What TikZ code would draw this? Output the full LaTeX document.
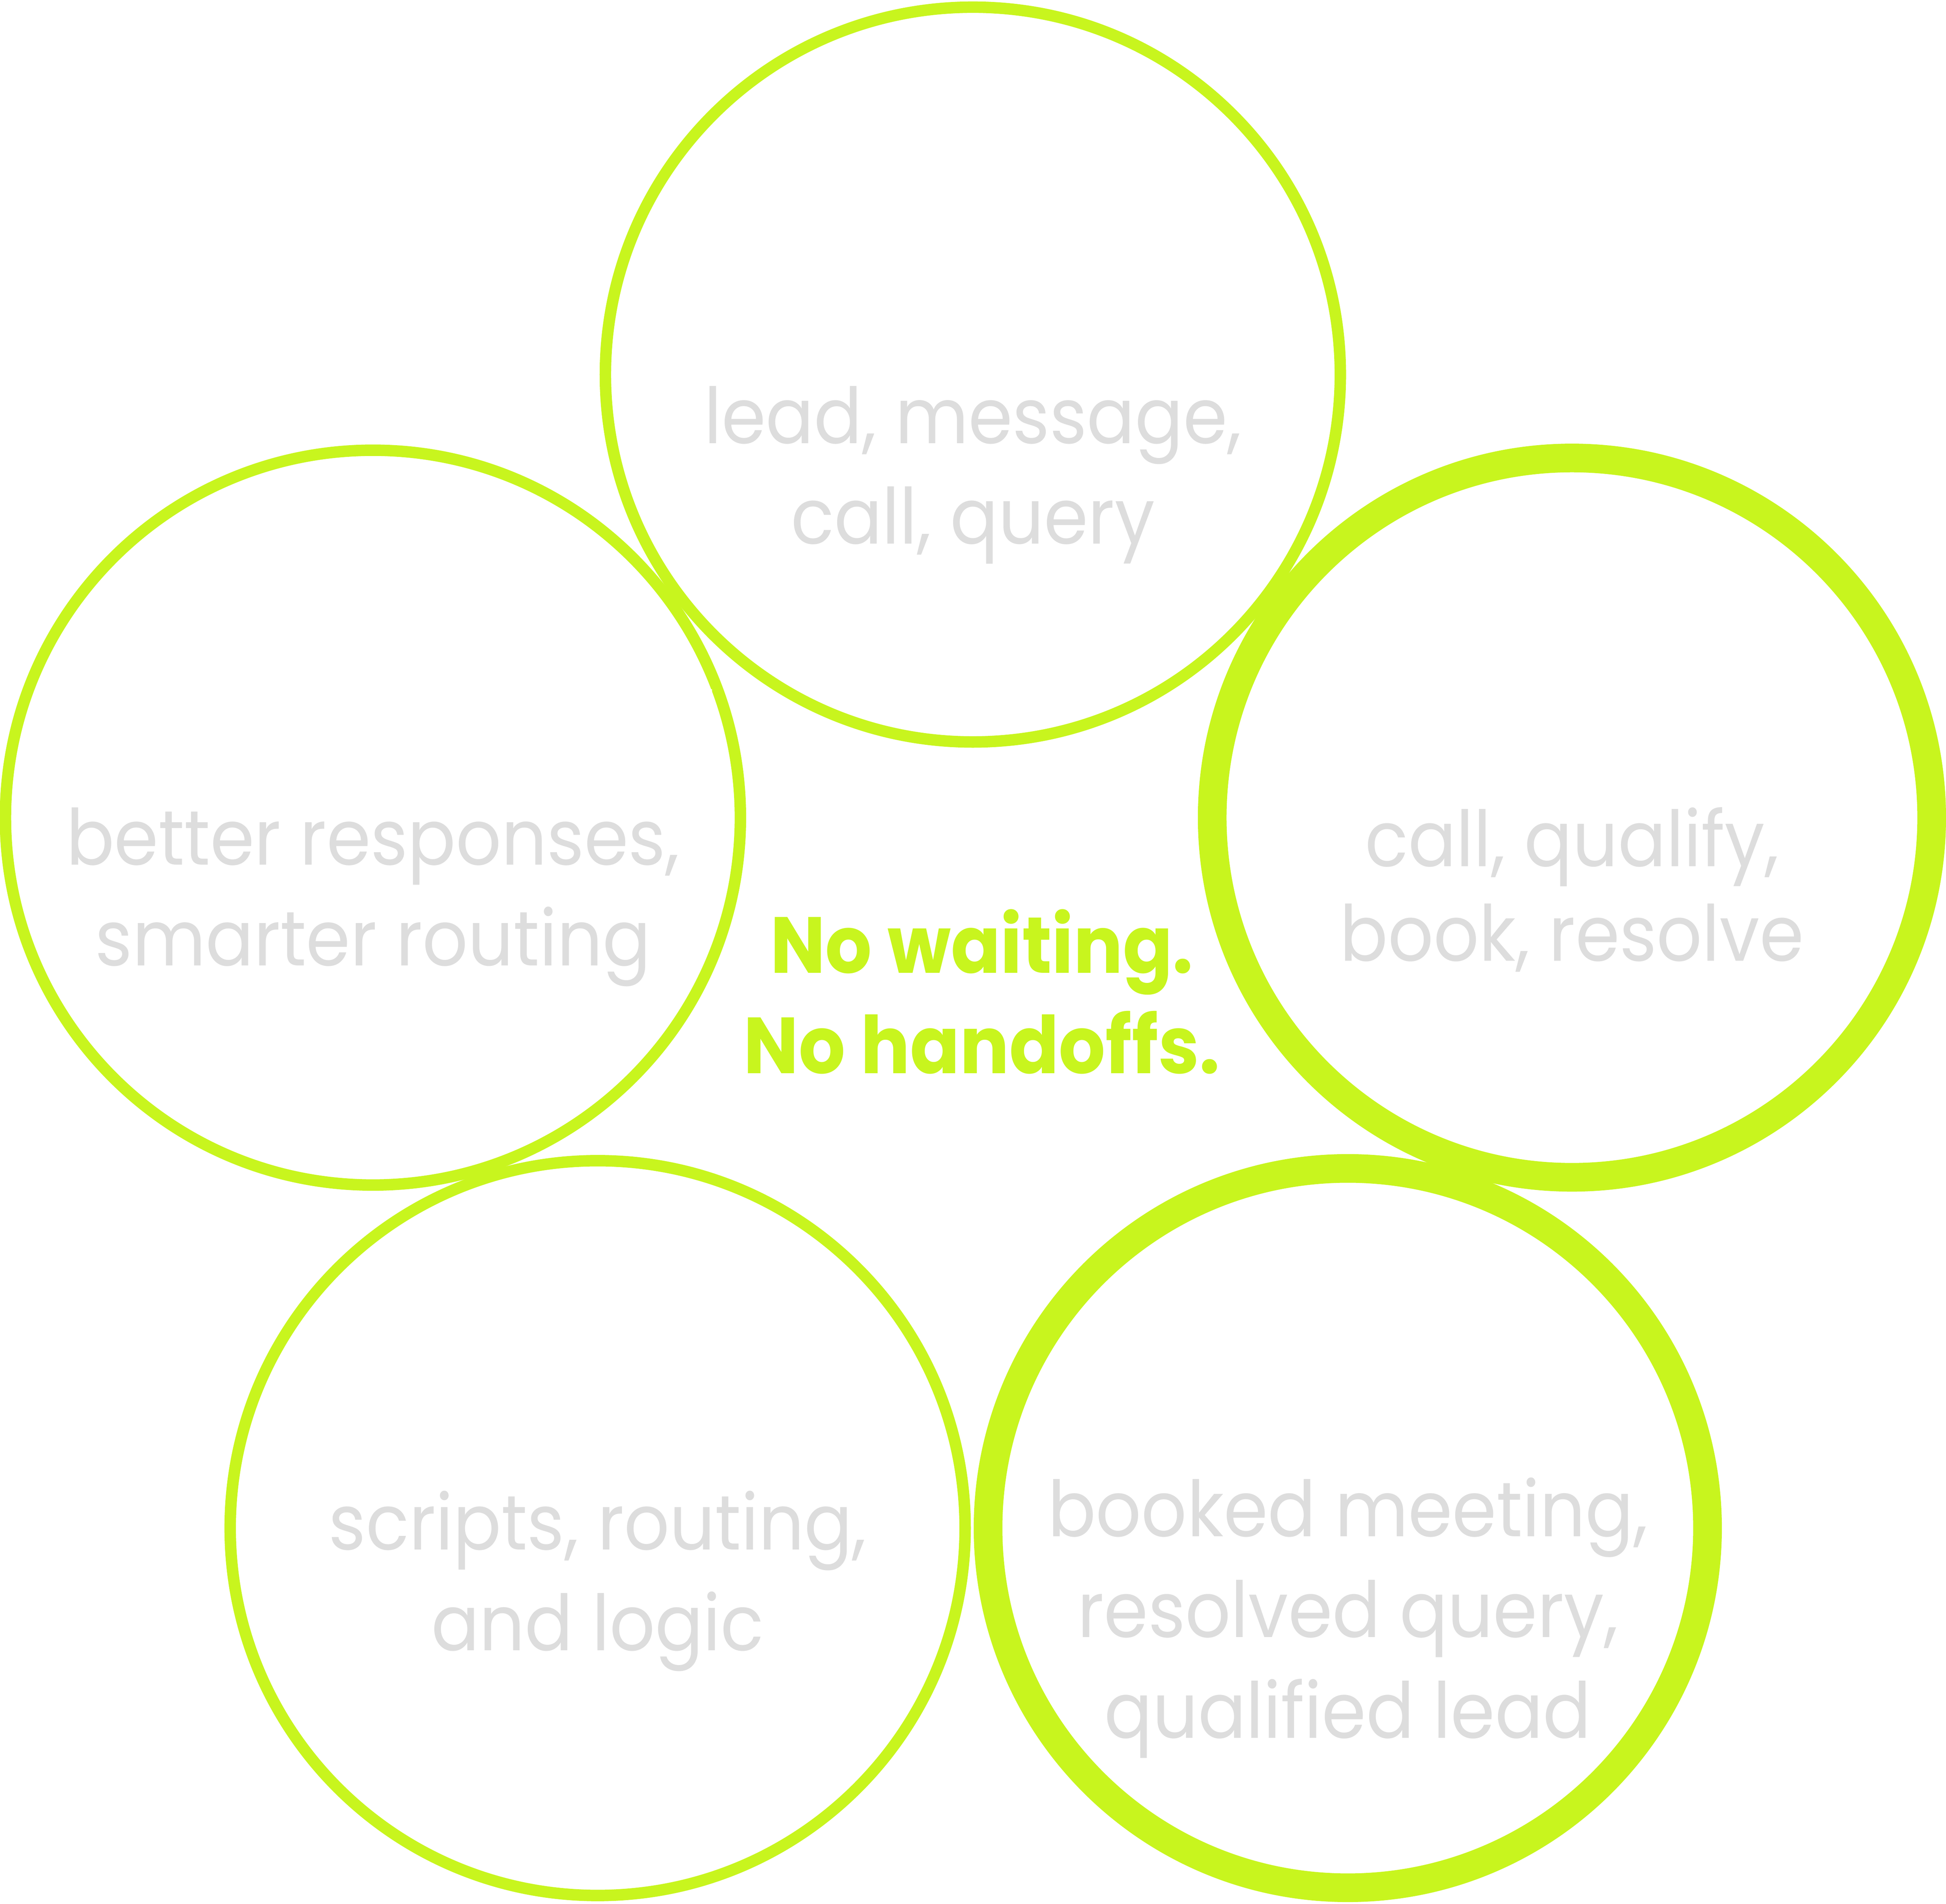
\documentclass[tikz,border=0pt]{standalone}
\usepackage{fontspec}
\setmainfont{Poppins}[FakeStretch=0.92]
\definecolor{accent}{HTML}{C8F51E}
\definecolor{softgray}{HTML}{DDDDDD}

\begin{document}
\begin{tikzpicture}[
every node/.style={inner sep=0pt, outer sep=0pt},
stage/.style={circle, draw=accent, line width=0.4cm, minimum size=25.64cm},
heavy/.style={line width=1.0cm, minimum size=25.10cm},
title/.style={anchor=base, text=white, font={\fontsize{101}{101}\bfseries\selectfont}},
detail/.style={anchor=base, align=center, text=softgray, font={\fontsize{76.8}{100}\selectfont}},
motto/.style={anchor=base, align=center, text=accent, font={\fontsize{79}{100}\bfseries\selectfont}}
]
  \useasboundingbox (0,0) rectangle (67.89,-66.43);

  % the five stages
  \node[stage] (trigger) at (33.94,-13.07) {};
  \node[stage, heavy] (action) at (54.84,-28.53) {};
  \node[stage, heavy] (outcomes) at (47.02,-53.32) {};
  \node[stage] (signals) at (20.85,-53.32) {};
  \node[stage] (improve) at (13.01,-28.53) {};

  % base of a text = baseline of its last line
  \node[title, font={\fontsize{82.8}{82.8}\bfseries\selectfont}] (trigger-title) at ([yshift=2.59cm]trigger.center) {Trigger};
  \node[detail] (trigger-text) at ([yshift=-5.91cm]trigger.center) {lead, message,\\call, query};

  \node[title] (action-title) at ([xshift=-0.04cm, yshift=2.47cm]action.center) {Action};
  \node[detail, font={\fontsize{76.8}{93.9}\selectfont}] (action-text) at ([yshift=-5.00cm]action.center) {call, qualify,\\book, resolve};

  \node[title] (outcomes-title) at ([yshift=4.20cm]outcomes.center) {Outcomes};
  \node[detail] (outcomes-text) at ([yshift=-7.32cm]outcomes.center) {booked meeting,\\resolved query,\\qualified lead};

  \node[title] (signals-title) at ([yshift=3.60cm]signals.center) {Signals};
  \node[detail] (signals-text) at ([yshift=-4.27cm]signals.center) {scripts, routing,\\and logic};

  \node[title] (improve-title) at ([xshift=0.36cm, yshift=2.50cm]improve.center) {Improvement};
  \node[detail] (improve-text) at ([yshift=-5.16cm]improve.center) {better responses,\\smarter routing};

  % centre message
  \node[motto] (motto) at (34.25,-37.46) {No waiting.\\No handoffs.};
\end{tikzpicture}
\end{document}
